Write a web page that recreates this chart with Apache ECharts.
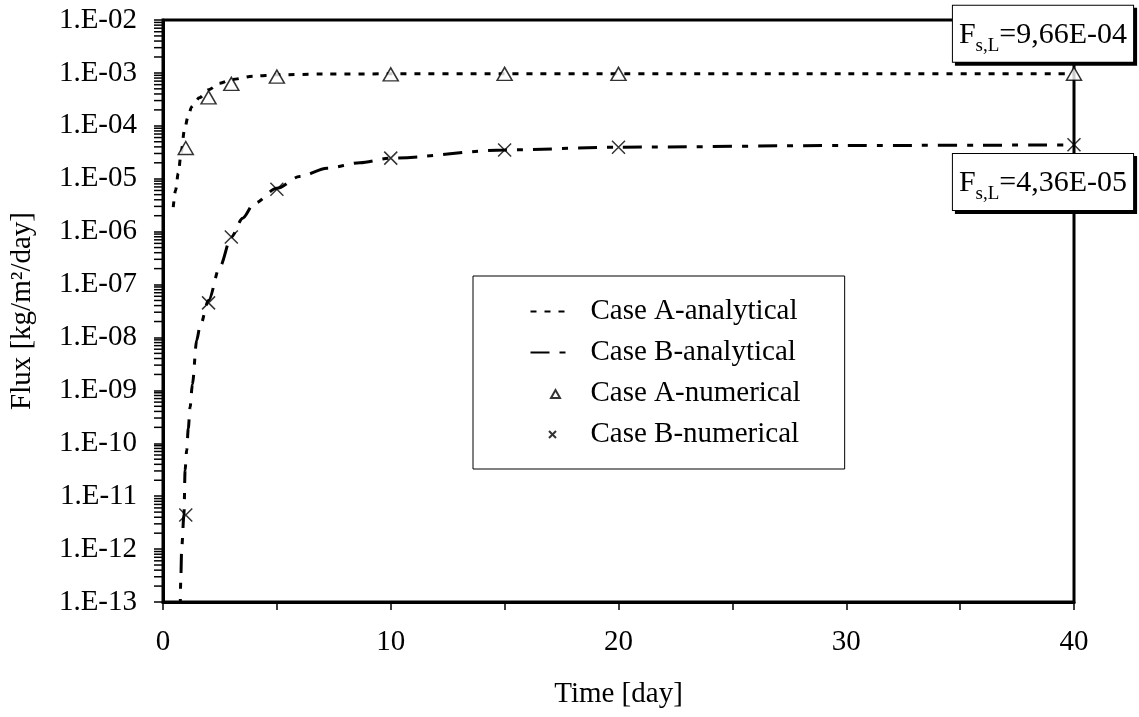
<!DOCTYPE html>
<html>
<head>
<meta charset="utf-8">
<script src="https://cdn.jsdelivr.net/npm/echarts@6/dist/echarts.min.js"></script>
<style>
  html, body { margin: 0; padding: 0; background: #fff; }
  #main { width: 1139px; height: 717px; }
</style>
</head>
<body>
<div id="main"></div>
<script>
// analytical curves
var dayA  = [0.45, 0.55, 0.67, 0.8, 0.94, 1.1, 1.26, 1.6, 2, 2.5, 3, 4, 5, 7, 10, 15, 20, 30, 40];
var fluxA = [2.9e-6, 6e-6, 1.26e-5, 3.2e-5, 8.3e-5, 1.5e-4, 2.3e-4, 3.4e-4, 4.8e-4, 6.4e-4, 7.5e-4, 8.7e-4, 9.2e-4, 9.5e-4, 9.6e-4, 9.64e-4, 9.65e-4, 9.66e-4, 9.66e-4];
var dayB  = [0.75, 0.78, 0.82, 0.92, 0.97, 1.04, 1.11, 1.19, 1.29, 1.48, 1.62, 2, 2.5, 3, 3.5, 4, 5, 6, 7.2, 8.65, 10, 15, 20, 30, 40];
var fluxB = [5e-14, 2.6e-13, 1.05e-12, 4.4e-12, 3.1e-11, 7.4e-11, 1.9e-10, 4.8e-10, 1.3e-9, 8.9e-9, 1.6e-8, 5e-8, 2.2e-7, 8e-7, 1.8e-6, 3.4e-6, 6.6e-6, 1.1e-5, 1.58e-5, 2e-5, 2.45e-5, 3.5e-5, 3.95e-5, 4.25e-5, 4.36e-5];
// numerical points
var dayNum   = [1, 2, 3, 5, 10, 15, 20, 40];
var fluxANum = [3.8e-5, 3.45e-4, 6.2e-4, 8.5e-4, 9.4e-4, 9.6e-4, 9.6e-4, 9.66e-4];
var fluxBNum = [4.4e-12, 4.5e-8, 7.9e-7, 6.3e-6, 2.45e-5, 3.5e-5, 3.95e-5, 4.4e-5];
// steady state values
var steadyA = 9.66e-4;
var steadyB = 4.36e-5;

var xTicks = [0, 10, 20, 30, 40];
var minorY = [];
for (var ex = -13; ex < -2; ex++) {
    for (var k = 2; k <= 9; k++) minorY.push(k * Math.pow(10, ex));
}

function pairs(xs, ys) {
    return xs.map(function (x, i) { return [x, ys[i]]; });
}

var font = 'Liberation Serif';
var chart = echarts.init(document.getElementById('main'));

function boxLabel(txt, dy) {
    return {
        show: true,
        position: 'inside',
        offset: [-31, dy],
        formatter: '{m|F}{s|s,L}{m|=' + txt + '}',
        backgroundColor: '#fff',
        borderColor: '#000',
        borderWidth: 1,
        padding: [12, 6, 10, 6],
        shadowColor: '#000',
        shadowOffsetX: 3,
        shadowOffsetY: 3,
        shadowBlur: 0,
        rich: {
            m: { fontFamily: font, fontSize: 30, color: '#000', lineHeight: 34 },
            s: { fontFamily: font, fontSize: 19, color: '#000', lineHeight: 19, padding: [23, 0, 0, 0] }
        }
    };
}

var option = {
    backgroundColor: '#fff',
    animation: false,
    grid: {
        left: 163, right: 65, top: 20, bottom: 115,
        show: true, borderColor: '#000', borderWidth: 3
    },
    legend: {
        orient: 'vertical',
        left: 473, top: 276,
        backgroundColor: '#fff',
        borderColor: '#000',
        borderWidth: 1,
        padding: [21, 44, 20, 55],
        itemGap: 12,
        itemWidth: 37,
        itemHeight: 14,
        textStyle: { fontFamily: font, fontSize: 29, color: '#000', padding: [0, 0, 0, 18] },
        data: [
            { name: 'Case A-analytical', itemStyle: { color: 'rgba(0,0,0,0)', borderWidth: 0 } },
            { name: 'Case B-analytical', itemStyle: { color: 'rgba(0,0,0,0)', borderWidth: 0 } },
            { name: 'Case A-numerical', icon: 'path://M0,0M37,14M20.5,11.5L25,3.5L29.5,11.5Z' },
            { name: 'Case B-numerical', icon: 'path://M0,0M37,14M18.5,3.5L25.5,10.5M25.5,3.5L18.5,10.5' }
        ]
    },
    xAxis: {
        type: 'value',
        min: 0, max: 40, interval: 5,
        name: 'Time [day]',
        nameLocation: 'middle',
        nameGap: 78,
        nameTextStyle: { fontFamily: font, fontSize: 29, color: '#000' },
        axisLine: { lineStyle: { color: '#000', width: 3 } },
        axisTick: { show: true, length: 8, lineStyle: { color: '#000', width: 1.5 } },
        axisLabel: {
            margin: 26,
            fontFamily: font, fontSize: 29, color: '#000',
            formatter: function (v) { return xTicks.indexOf(v) >= 0 ? String(v) : ''; }
        },
        splitLine: { show: false }
    },
    yAxis: {
        type: 'log',
        logBase: 10,
        min: 1e-13, max: 1e-2, interval: 1,
        name: 'Flux [kg/m²/day]',
        nameLocation: 'middle',
        nameGap: 126,
        nameTextStyle: { fontFamily: font, fontSize: 29, color: '#000' },
        axisLine: { show: true, lineStyle: { color: '#000', width: 3 } },
        axisTick: { show: true, length: 9, lineStyle: { color: '#000', width: 1.5 } },
        axisLabel: {
            margin: 26,
            fontFamily: font, fontSize: 29, color: '#000',
            formatter: function (v) {
                var p = Math.round(-Math.log10(v));
                return '1.E-' + (p < 10 ? '0' + p : p);
            }
        },
        splitLine: { show: false }
    },
    series: [
        {
            name: 'Case A-analytical',
            type: 'line',
            data: pairs(dayA, fluxA),
            symbol: 'none',
            smooth: 0.3,
            smoothMonotone: 'x',
            lineStyle: { color: '#000', width: 3, type: [6, 8] },
            itemStyle: { color: '#000' },
            z: 3,
            markLine: {
                silent: true,
                symbol: 'none',
                label: { show: false },
                lineStyle: { color: '#000', width: 1, type: 'solid' },
                data: [{ yAxis: steadyA }, { yAxis: steadyB }]
            },
            markPoint: {
                symbol: 'rect',
                symbolSize: 0,
                data: [
                    { coord: [40, steadyA], label: boxLabel('9,66E-04', -40) },
                    { coord: [40, steadyB], label: boxLabel('4,36E-05', 37) }
                ]
            }
        },
        {
            name: 'Case B-analytical',
            type: 'line',
            data: pairs(dayB, fluxB),
            symbol: 'none',
            smooth: 0.3,
            smoothMonotone: 'x',
            lineStyle: { color: '#000', width: 3, type: [19, 10, 6, 10] },
            itemStyle: { color: '#000' },
            z: 3
        },
        {
            name: 'Case A-numerical',
            type: 'scatter',
            data: pairs(dayNum, fluxANum),
            symbol: 'triangle',
            symbolSize: [15, 13],
            itemStyle: { color: '#fff', borderColor: '#000', borderWidth: 1.5 },
            z: 5
        },
        {
            name: 'Case B-numerical',
            type: 'scatter',
            data: pairs(dayNum, fluxBNum),
            symbol: 'path://M0,0L10,10M10,0L0,10',
            symbolSize: 13,
            itemStyle: { color: 'none', borderColor: '#000', borderWidth: 1.5 },
            z: 5
        }
    ]
};

chart.setOption(option);

// log minor ticks on the y axis, placed through the axis scale
var tickLines = minorY.map(function (v) {
    var p = chart.convertToPixel({ xAxisIndex: 0, yAxisIndex: 0 }, [0, v]);
    return {
        type: 'line',
        silent: true,
        z: 100,
        shape: { x1: p[0] - 9, y1: p[1], x2: p[0] - 1, y2: p[1] },
        style: { stroke: '#000', lineWidth: 1.5 }
    };
});
chart.setOption({ graphic: { elements: tickLines } });
</script>
</body>
</html>
